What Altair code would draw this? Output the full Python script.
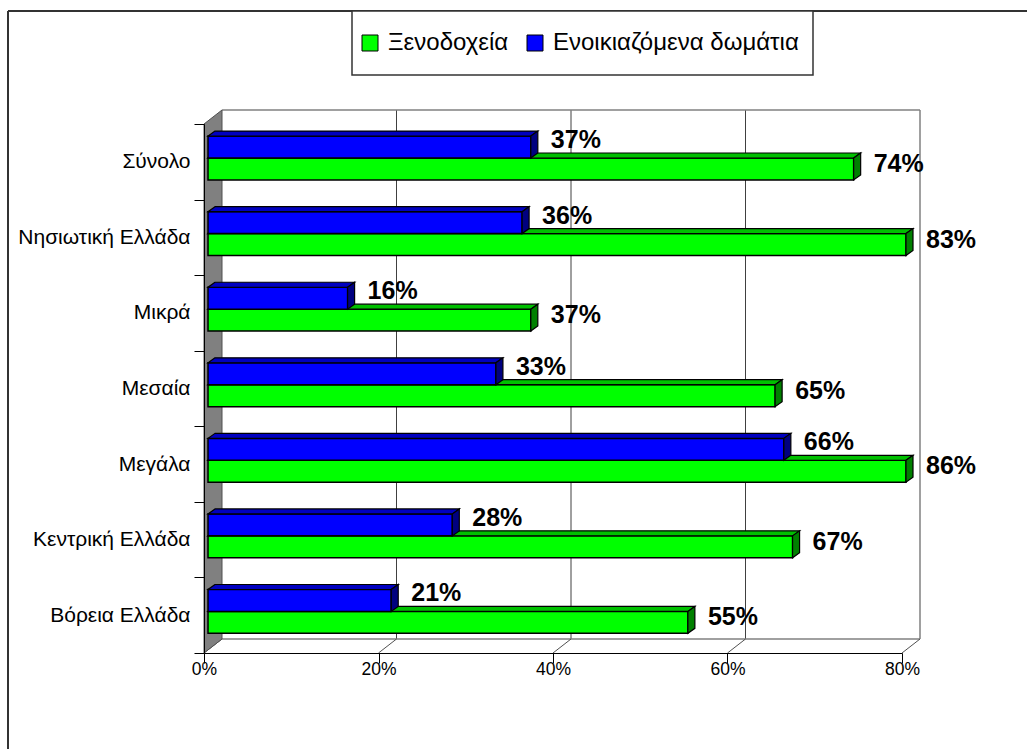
import altair as alt
import pandas as pd

# ---------------- data ----------------
categories = ["Σύνολο", "Νησιωτική Ελλάδα", "Μικρά", "Μεσαία", "Μεγάλα",
              "Κεντρική Ελλάδα", "Βόρεια Ελλάδα"]
hotels = [0.74, 0.83, 0.37, 0.65, 0.86, 0.67, 0.55]      # Ξενοδοχεία
rooms = [0.37, 0.36, 0.16, 0.33, 0.66, 0.28, 0.21]       # Ενοικιαζόμενα δωμάτια
series_names = ["Ξενοδοχεία", "Ενοικιαζόμενα δωμάτια"]
x_ticks = [0, 0.2, 0.4, 0.6, 0.8]
x_max = 0.8

# ---------------- styles ----------------
front_colors = ["#00FF00", "#0000FF"]
top_colors = ["#00C000", "#0000C0"]
side_colors = ["#008000", "#000080"]
FONT = "Liberation Sans"

W, H = 698, 529
n = len(categories)
ux = x_max / W          # data units per pixel (x)
uy = n / H              # data units per pixel (y)
BAR_DX, BAR_DY = 7, 5   # bar depth (px)
WALL_DX, WALL_DY = 18, 14
BAR_SHIFT = 4
band_frac = {"Ενοικιαζόμενα δωμάτια": (0.16, 0.45), "Ξενοδοχεία": (0.45, 0.74)}

xs = alt.Scale(domain=[0, x_max], nice=False, zero=False)
ys = alt.Scale(domain=[0, n], reverse=True, nice=False, zero=False)

x_axis = alt.Axis(values=x_ticks, format=".0%", title=None, grid=False, tickSize=10,
                  tickColor="black", domainColor="black", labelColor="black",
                  labelFontSize=17.5, labelFont=FONT, labelPadding=-3, zindex=1,
                  labelFlush=False, labelOverlap=False)
label_expr = "[" + ",".join("'%s'" % c for c in categories) + "][datum.value] || ''"
y_axis = alt.Axis(values=list(range(n + 1)), labelExpr=label_expr, labelOffset=H / n / 2,
                  title=None, grid=False, tickSize=10, tickColor="black",
                  domainColor="black", labelColor="black", labelFontSize=21,
                  labelFont=FONT, labelPadding=4, zindex=1, labelOverlap=False,
                  labelFlush=False, labelLimit=300)


def X(f):
    return alt.X(f, type="quantitative", scale=xs, axis=x_axis)


def Y(f):
    return alt.Y(f, type="quantitative", scale=ys, axis=y_axis)


legend = alt.Legend(orient="none", legendX=154, legendY=-93, direction="horizontal",
                    title=None, symbolType="square", symbolSize=256,
                    symbolStrokeColor="black", symbolStrokeWidth=1, labelFont=FONT,
                    labelFontSize=24, labelColor="black", labelOffset=6,
                    columnPadding=14, padding=0, labelLimit=400)
color = alt.Color("series:N", scale=alt.Scale(domain=series_names, range=front_colors),
                  legend=legend)


def bar_layers(name, values, top_c, side_c, label_dy):
    f0, f1 = band_frac[name]
    front, top, side, lab = [], [], [], []
    for i, (c, v) in enumerate(zip(categories, values)):
        xv = min(v, x_max)
        y0, y1 = i + f0, i + f1
        front.append(dict(series=name, x0=0, x1=xv, y0=y0, y1=y1))
        top.append(dict(bar=c, ty=y0, tx0=0, tx1=xv))
        top.append(dict(bar=c, ty=y0 - BAR_DY * uy, tx0=BAR_DX * ux, tx1=xv + BAR_DX * ux))
        side.append(dict(bar=c, sx=xv, sy0=y0, sy1=y1))
        side.append(dict(bar=c, sx=xv + BAR_DX * ux, sy0=y0 - BAR_DY * uy, sy1=y1 - BAR_DY * uy))
        lab.append(dict(lx=xv, ly=(y0 + y1) / 2, value=v))
    f = alt.Chart(pd.DataFrame(front)).mark_rect(
        stroke="black", strokeWidth=1.5, xOffset=BAR_SHIFT, x2Offset=BAR_SHIFT).encode(
        x=X("x0"), x2="x1", y=Y("y0"), y2="y1", color=color)
    t = alt.Chart(pd.DataFrame(top)).mark_area(
        orient="horizontal", fill=top_c, stroke="black", strokeWidth=1.2,
        xOffset=BAR_SHIFT, x2Offset=BAR_SHIFT).encode(
        y=Y("ty"), x=X("tx0"), x2="tx1", detail="bar:N")
    s = alt.Chart(pd.DataFrame(side)).mark_area(
        orient="vertical", fill=side_c, stroke="black", strokeWidth=1.2,
        xOffset=BAR_SHIFT).encode(
        x=X("sx"), y=Y("sy0"), y2="sy1", detail="bar:N")
    txt = alt.Chart(pd.DataFrame(lab)).mark_text(
        align="left", baseline="middle", dx=BAR_SHIFT + 20, dy=label_dy,
        font=FONT, fontSize=25, fontWeight="bold", color="black").encode(
        x=X("lx"), y=Y("ly"), text=alt.Text("value:Q", format=".0%"))
    return [f, t, s], txt


green_layers, green_text = bar_layers("Ξενοδοχεία", hotels, top_colors[0], side_colors[0], -5)
blue_layers, blue_text = bar_layers("Ενοικιαζόμενα δωμάτια", rooms, top_colors[1], side_colors[1], -7)

# ---------------- frame & legend box ----------------
frame_top = alt.Chart(pd.DataFrame({"a": [0]})).mark_rule(color="#333333", strokeWidth=2).encode(
    x=alt.value(8 - 204), x2=alt.value(1027 - 204), y=alt.value(11 - 124))
frame_left = alt.Chart(pd.DataFrame({"a": [0]})).mark_rule(color="#333333", strokeWidth=2).encode(
    x=alt.value(8 - 204), y=alt.value(11 - 124), y2=alt.value(749 - 124))
legend_box = alt.Chart(pd.DataFrame({"a": [0]})).mark_rect(
    fill="white", stroke="#333333", strokeWidth=1.5).encode(
    x=alt.value(352 - 204), x2=alt.value(813 - 204), y=alt.value(11 - 124), y2=alt.value(75 - 124))

# ---------------- 3D walls ----------------
off = dict(xOffset=WALL_DX, x2Offset=WALL_DX, yOffset=-WALL_DY, y2Offset=-WALL_DY)
grid_df = pd.DataFrame({"gx": x_ticks[1:-1], "g0": 0, "g1": n})
edge_df = pd.DataFrame({"gx": [x_ticks[-1]], "g0": 0, "g1": n})
back_grid = alt.Chart(grid_df).mark_rule(color="#404040", strokeWidth=1, **off).encode(
    x=X("gx"), y=Y("g0"), y2="g1")
back_edge = alt.Chart(edge_df).mark_rule(color="#808080", strokeWidth=1.5, **off).encode(
    x=X("gx"), y=Y("g0"), y2="g1")
hz_df = pd.DataFrame({"h0": [0, 0], "h1": [x_max, x_max], "hy": [0, n]})
back_h = alt.Chart(hz_df).mark_rule(color="#808080", strokeWidth=1.5, **off).encode(
    x=X("h0"), x2="h1", y=Y("hy"))
diag_df = pd.DataFrame({"d0": x_ticks, "d1": [t + WALL_DX * ux for t in x_ticks],
                        "dy0": n, "dy1": n - WALL_DY * uy})
diag = alt.Chart(diag_df).mark_rule(color="#505050", strokeWidth=1).encode(
    x=X("d0"), x2="d1", y=Y("dy0"), y2="dy1")
wall_df = pd.DataFrame({"wx": [0, WALL_DX * ux], "wy0": [0, -WALL_DY * uy],
                        "wy1": [n, n - WALL_DY * uy]})
left_wall = alt.Chart(wall_df).mark_area(
    orient="vertical", fill="#808080", stroke="#505050", strokeWidth=1).encode(
    x=X("wx"), y=Y("wy0"), y2="wy1")

chart = alt.layer(
    frame_top, frame_left, legend_box,
    back_grid, back_edge, back_h, diag, left_wall,
    *green_layers, *blue_layers, green_text, blue_text
).properties(
    width=W, height=H,
    padding={"left": 204, "top": 124, "right": 1027 - 204 - W, "bottom": 749 - 124 - H},
    autosize=alt.AutoSizeParams(type="none"),
    background="white",
).configure_view(stroke="transparent")

chart.save("out.html", embed_options={"renderer": "svg", "actions": False})
